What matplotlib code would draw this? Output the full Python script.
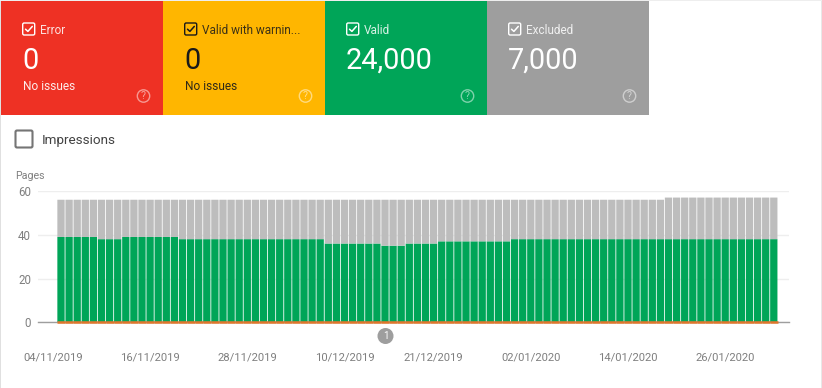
import pandas as pd
import matplotlib
matplotlib.use("Agg")
import matplotlib.pyplot as plt
from matplotlib.patches import Rectangle, Circle, FancyBboxPatch

plt.rcParams['font.family'] = ['Roboto', 'DejaVu Sans']

W, H = 822, 388

valid = [
    39,39,39,39,39, 38,38,38, 39,39,39,39,39,39,39,
    38,38,38,38,38,38,38,38,38,38,38,38,38,38,38,38,38,38,
    36,36,36,36,36,36,36, 35,35,35, 36,36,36,36,
    37,37,37,37,37,37,37,37,37,
    38,38,38,38,38,38,38,38,38,38,38,38,38,38,38,38,38,38,38,38,38,38,38,38,38,38,38,38,38,38,38,38,38,
]
excluded = [
    17,17,17,17,17, 18,18,18, 17,17,17,17,17,17,17,
    18,18,18,18,18,18,18,18,18,18,18,18,18,18,18,18,18,18,
    20,20,20,20,20,20,20, 21,21,21, 20,20,20,20,
    19,19,19,19,19,19,19,19,19,
    18,18,18,18,18,18,18,18,18,18,18,18,18,18,18,18,18,18,18,
    19,19,19,19,19,19,19,19,19,19,19,19,19,19,
]
zero_series = [0] * len(valid)
first_day = "2019-11-05"
tick_dates = ["04/11/2019", "16/11/2019", "28/11/2019", "10/12/2019",
              "21/12/2019", "02/01/2020", "14/01/2020", "26/01/2020"]
y_ticks = [0, 20, 40, 60]

cards = [
    ("Error", "0", "No issues", "#EE3124", "white"),
    ("Valid with warnin...", "0", "No issues", "#FFB600", "#1a1a1a"),
    ("Valid", "24,000", "", "#00A558", "white"),
    ("Excluded", "7,000", "", "#9E9E9E", "white"),
]

fig = plt.figure(figsize=(W/100, H/100), dpi=100, facecolor="white")

# Chart axes, placed in pixels
L, R, B, T = 38, 789, 322.3, 191
ax = fig.add_axes([L/W, 1-B/H, (R-L)/W, (B-T)/H], zorder=2)
ax.patch.set_alpha(0)
x = list(range(len(valid)))
for b in ax.bar(x, valid, width=0.9, color="#00A558", linewidth=0, zorder=2):
    b.set_snap(False)
for b in ax.bar(x, excluded, bottom=valid, width=0.9, color="#BDBDBD", linewidth=0, zorder=2):
    b.set_snap(False)
ax.bar(x, zero_series, width=1.0, edgecolor="#E0762B", linewidth=1.8, zorder=4,
       clip_on=False)
ax.set_xlim((L-61)/8.1, (R-61)/8.1)
ax.set_ylim(0, 60)
origin = pd.Timestamp(first_day)
pos = [(pd.to_datetime(d, format="%d/%m/%Y") - origin).days for d in tick_dates]
ax.set_xticks(pos, tick_dates)
ax.set_yticks(y_ticks)
ax.tick_params(axis="x", length=0, pad=22, labelsize=8.1, labelcolor="#7F7F7F")
ax.tick_params(axis="y", length=0, pad=5, labelsize=8.3, labelcolor="#7F7F7F")
ax.grid(axis="y", color="#EEEEEE", linewidth=1, zorder=0)
ax.set_axisbelow(True)
for s in ["top", "right", "left"]:
    ax.spines[s].set_visible(False)
ax.spines["bottom"].set_color("#9E9E9E")
ax.spines["bottom"].set_linewidth(1)

# Overlay in pixel coordinates
ov = fig.add_axes([0, 0, 1, 1], zorder=3)
ov.set_xlim(0, W)
ov.set_ylim(H, 0)
ov.axis("off")
ov.patch.set_alpha(0)

ov.add_patch(Rectangle((0, 0), 1, H, color="#E0E0E0", lw=0))
ov.add_patch(Rectangle((821, 0), 1, H, color="#E8E8E8", lw=0))
ov.add_patch(Rectangle((0, 0), W, 1, color="#EEEEEE", lw=0))


def checkbox(cx, cy, size, edge, tick=None, lw=1.2):
    ov.add_patch(FancyBboxPatch((cx-size/2+1, cy-size/2+1), size-2, size-2,
                                boxstyle="round,pad=1,rounding_size=1.5",
                                fc="none", ec=edge, lw=lw))
    if tick:
        ov.plot([cx-3.2, cx-0.8, cx+3.6], [cy+0.2, cy+2.4, cy-2.6],
                color=tick, lw=1.1, solid_capstyle="round")


for i, (name, num, sub, bg, fg) in enumerate(cards):
    x0 = 1 + 162*i
    ov.add_patch(Rectangle((x0, 1), 162, 114, color=bg, lw=0))
    checkbox(x0+27.7, 29, 12, fg, fg, lw=1.0)
    ov.text(x0+39, 30, name, color=fg, fontsize=8.5, va="center", ha="left", alpha=0.85)
    ov.text(x0+21, 61, num, color=fg, fontsize=20.8, va="center", ha="left")
    if sub:
        ov.text(x0+21.5, 87, sub, color=fg, fontsize=8.6, va="center", ha="left", alpha=0.9)
    ov.add_patch(Circle((x0+142.5, 96), 6.2, fc="none", ec="white", lw=1.0, alpha=0.5))
    ov.text(x0+142.5, 96.2, "?", color="white", fontsize=7.5, va="center", ha="center", alpha=0.55)

checkbox(24, 139, 17, "#757575", None, lw=1.5)
ov.text(42, 140.5, "Impressions", color="#424242", fontsize=9.7, va="center", ha="left")
ov.text(15, 176, "Pages", color="#7F7F7F", fontsize=7.7, va="center", ha="left")

ov.add_patch(Circle((385.5, 336), 8, fc="#9E9E9E", ec="none"))
ov.text(385.5, 336, "1", color="white", fontsize=7, va="center", ha="center")

fig.savefig("out.png", dpi=100, facecolor="white")
